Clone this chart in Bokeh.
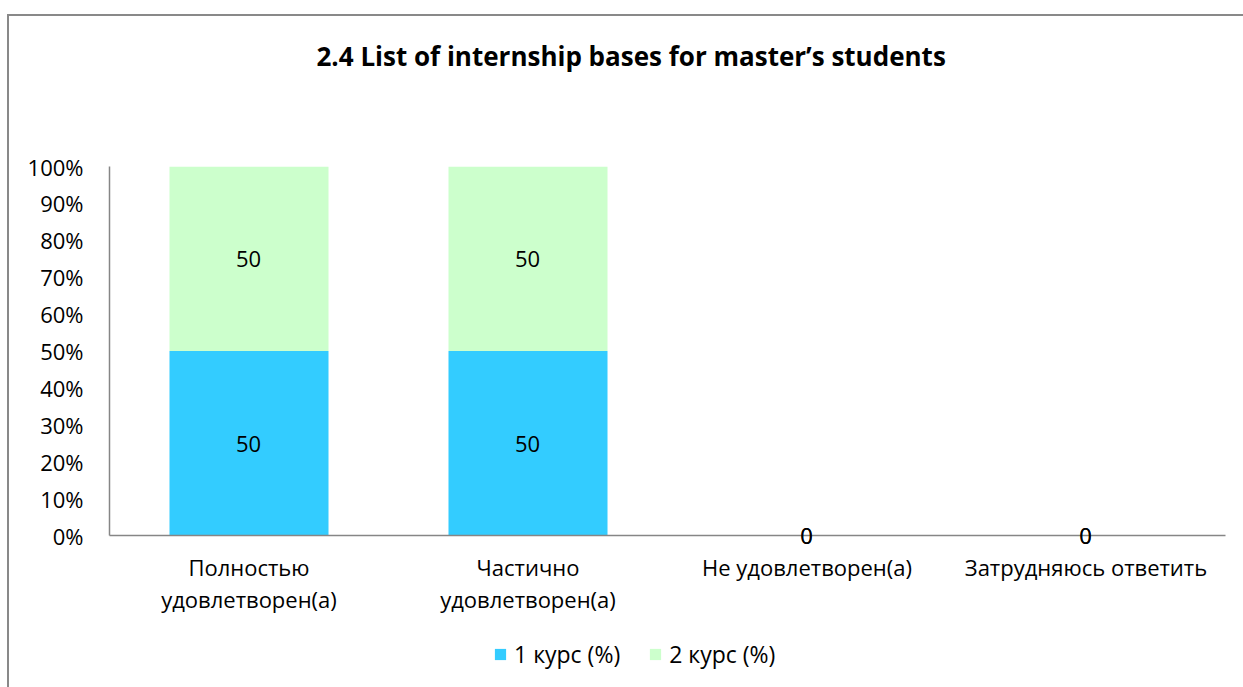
from bokeh.plotting import figure
from bokeh.models import (ColumnDataSource, Range1d, LabelSet, Legend,
                          LegendItem, FixedTicker, NumeralTickFormatter, LinearAxis)
from bokeh.core.properties import value
from bokeh.layouts import column
from bokeh.embed import file_html
from bokeh.resources import INLINE
try:
    from bokeh.models import HTMLLabelSet as DataLabels
except ImportError:
    DataLabels = LabelSet

categories = ["Полностью удовлетворен(а)", "Частично удовлетворен(а)",
              "Не удовлетворен(а)", "Затрудняюсь ответить"]
tick_line1 = ["Полностью", "Частично", "Не удовлетворен(а)", "Затрудняюсь ответить"]
tick_line2 = ["удовлетворен(а)", "удовлетворен(а)", "", ""]
series_names = ["1 курс (%)", "2 курс (%)"]
course1 = [50, 50, 0, 0]
course2 = [50, 50, 0, 0]
colors = ["#33CCFF", "#CCFFCC"]
title_text = "2.4 List of internship bases for master\u2019s students"

FONT = "Open Sans"
FS = "22px"

xpos = list(range(1, len(categories) + 1))
totals = [a + b for a, b in zip(course1, course2)]
f1 = [a / t if t else 0 for a, t in zip(course1, totals)]
f2 = [b / t if t else 0 for b, t in zip(course2, totals)]

src = ColumnDataSource(dict(
    x=xpos, s1=f1, s2=f2,
    mid1=[v / 2 for v in f1],
    mid2=[a + b / 2 for a, b in zip(f1, f2)],
    lab1=[str(v) for v in course1],
    lab2=[str(v) for v in course2],
))

W = 1234

# ---- title strip
tf = figure(width=W, height=100, output_backend="svg", toolbar_location=None,
            min_border=0, x_axis_location=None, y_axis_location=None,
            x_range=Range1d(0, 1), y_range=Range1d(0, 1))
tf.outline_line_color = None
tf.grid.grid_line_color = None
tf.title.text = title_text
tf.title.align = "left"
tf.title.offset = 207
tf.title.vertical_align = "top"
tf.title.text_font = FONT
tf.title.text_font_size = "26px"
tf.title.text_font_style = "bold"
tf.title.text_color = "#000000"
tf.title.standoff = 42

# ---- main chart
p = figure(x_range=Range1d(0.5, len(categories) + 0.5), y_range=Range1d(0, 1),
           width=W, height=514, output_backend="svg", toolbar_location=None,
           min_border_left=100, min_border_right=18, min_border_top=50,
           min_border_bottom=95, x_axis_location=None, title_location=None)

r = p.vbar_stack(["s1", "s2"], x="x", width=0.57, color=colors, source=src,
                 line_color=None)

for col_y, col_t in (("mid1", "lab1"), ("mid2", "lab2")):
    p.add_layout(DataLabels(x="x", y=col_y, text=col_t, source=src, text_align="center",
                            text_baseline="middle", text_font=value(FONT),
                            text_font_size=value(FS), text_color="#000000"))

p.outline_line_color = None
p.background_fill_color = "white"
p.border_fill_color = "white"
p.grid.grid_line_color = None

ya = p.yaxis[0]
ya.ticker = FixedTicker(ticks=[i / 10 for i in range(11)])
ya.formatter = NumeralTickFormatter(format="0%")
ya.major_tick_line_color = None
ya.minor_tick_line_color = None
ya.axis_line_color = "#868686"
ya.axis_line_width = 1.5
ya.major_label_standoff = 20
ya.major_label_text_font = FONT
ya.major_label_text_font_size = FS
ya.major_label_text_color = "#000000"

xa = LinearAxis(ticker=FixedTicker(ticks=xpos),
                major_label_overrides=dict(zip(xpos, tick_line1)),
                axis_line_color="#868686", axis_line_width=1.5,
                major_tick_line_color=None, minor_tick_line_color=None,
                major_label_standoff=10, major_label_text_font=FONT,
                major_label_text_font_size=FS, major_label_text_color="#000000")
p.add_layout(xa, "below")
xa2 = LinearAxis(ticker=FixedTicker(ticks=xpos),
                 major_label_overrides=dict(zip(xpos, tick_line2)),
                 axis_line_color=None, major_tick_line_color=None,
                 minor_tick_line_color=None, major_label_standoff=-7,
                 major_label_text_font=FONT, major_label_text_font_size=FS,
                 major_label_text_color="#000000")
p.add_layout(xa2, "below")

# ---- legend strip (same bars, drawn out of view; only the legend shows)
lg = figure(x_range=Range1d(0.5, len(categories) + 0.5), y_range=Range1d(2, 3),
            width=W, height=57, output_backend="svg", toolbar_location=None,
            min_border=0, x_axis_location=None, y_axis_location=None)
lg.outline_line_color = None
lg.grid.grid_line_color = None
lr = lg.vbar_stack(["s1", "s2"], x="x", width=0.57, color=colors, source=src,
                   line_color=None)
legend = Legend(items=[LegendItem(label=series_names[i], renderers=[lr[i]]) for i in range(2)],
                orientation="horizontal", location=(384, 17),
                label_text_font=FONT, label_text_font_size="23px", label_text_color="#000000",
                glyph_width=14, glyph_height=14, spacing=28, label_standoff=7,
                border_line_color=None, background_fill_alpha=0, margin=0, padding=0)
lg.add_layout(legend, "center")

layout = column(tf, p, lg, spacing=0,
                styles={"border-top": "2px solid #898989",
                        "border-left": "2px solid #898989",
                        "margin-top": "14px", "margin-left": "7px"})

open("out.html", "w").write(file_html(layout, INLINE))
